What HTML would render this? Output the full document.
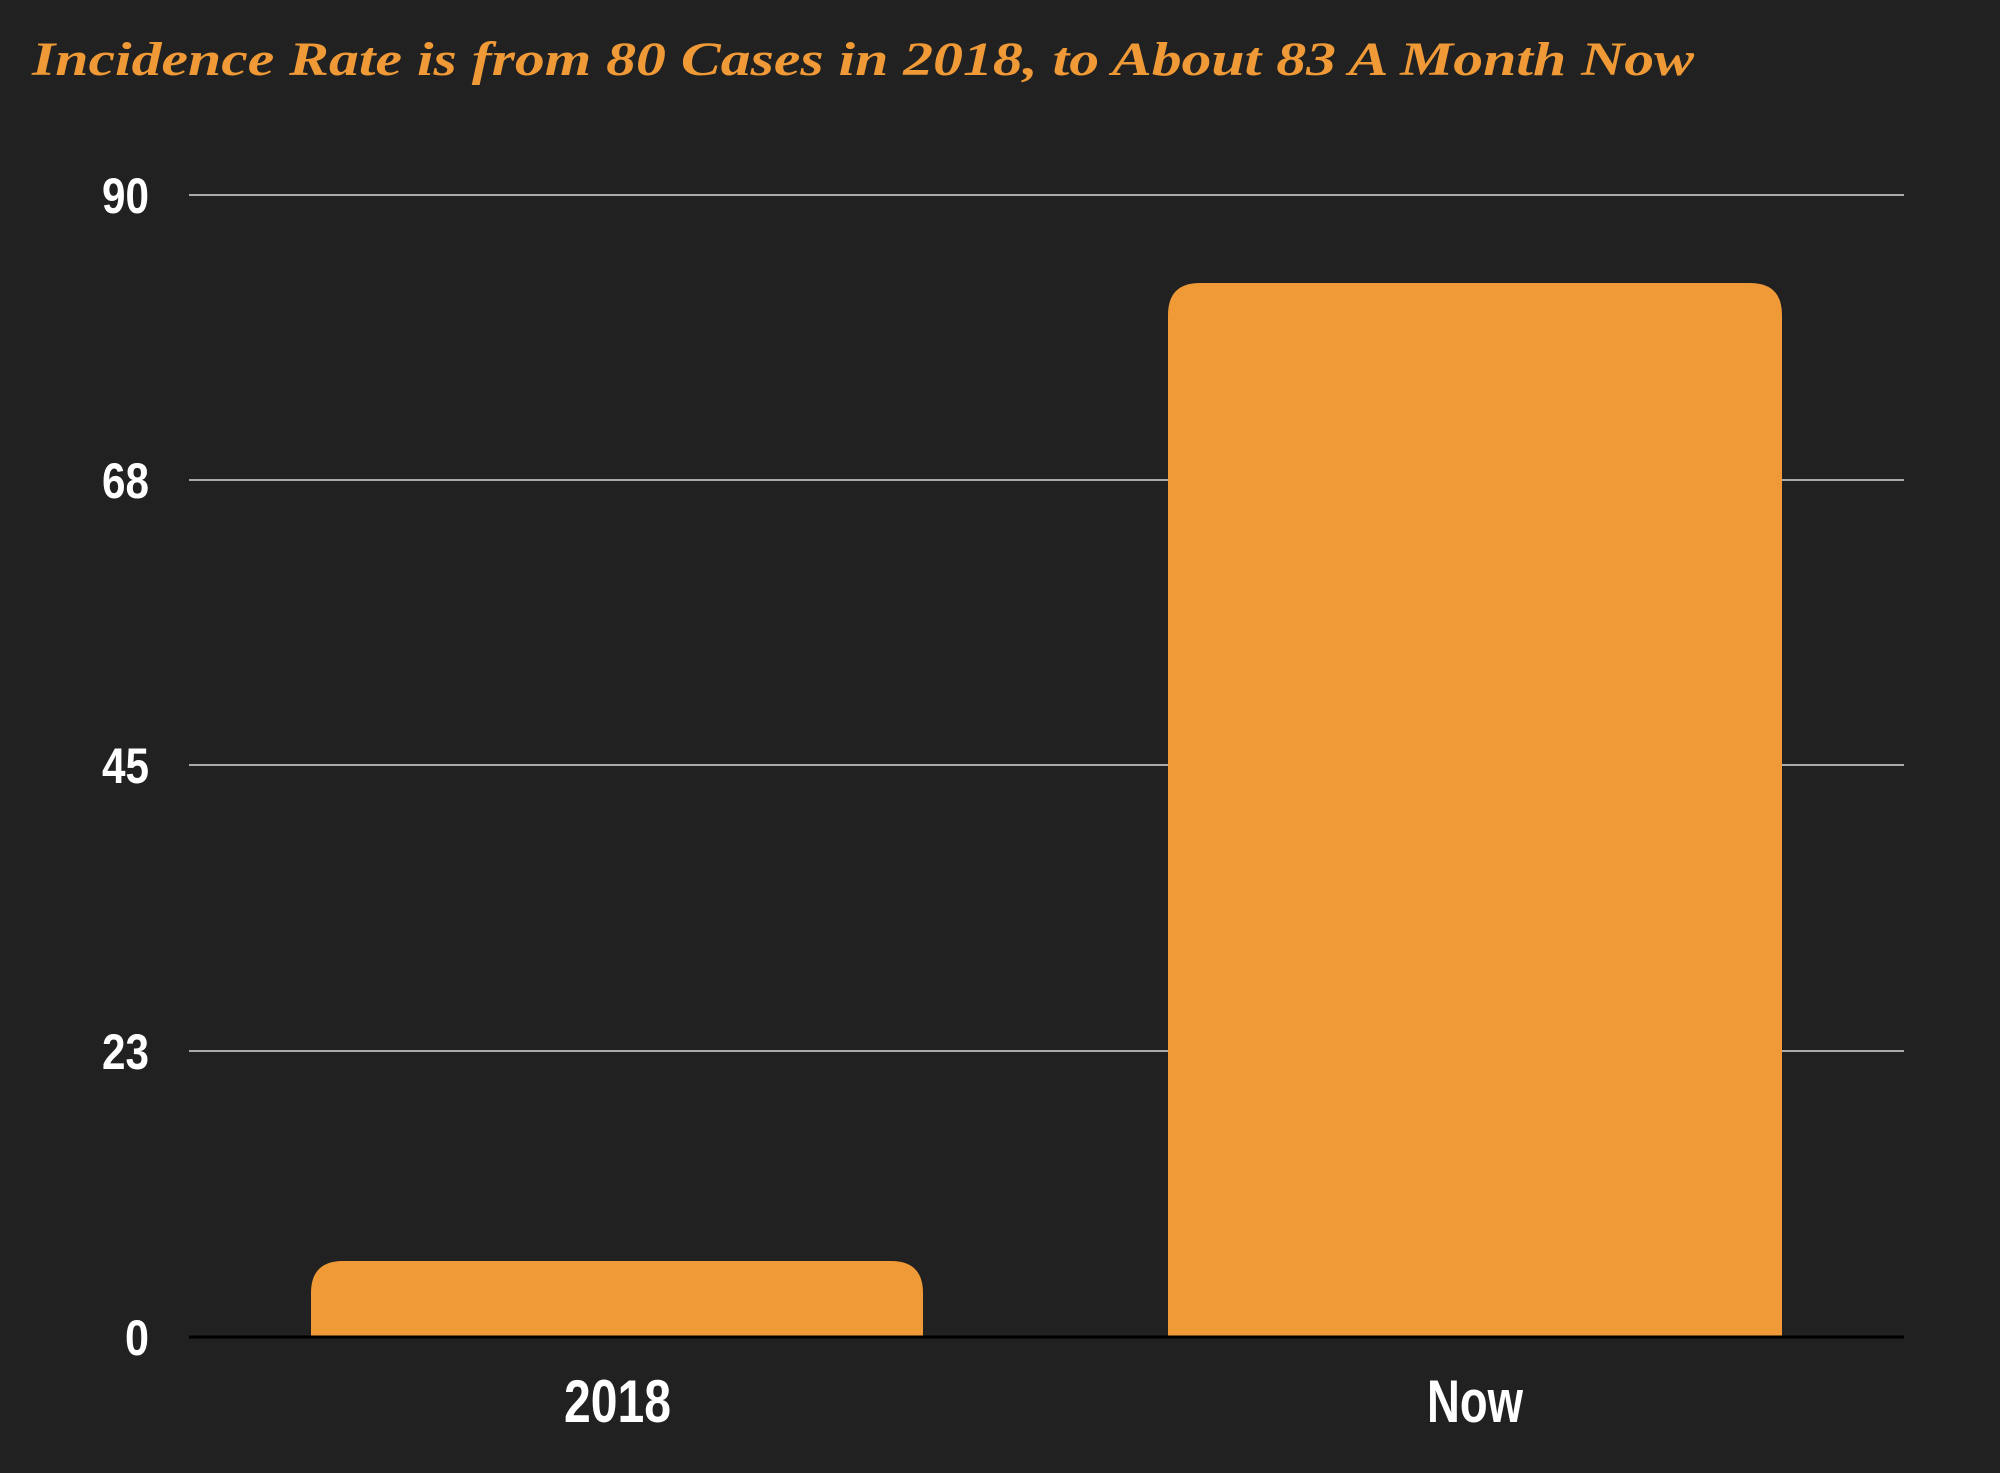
<!DOCTYPE html>
<html><head><meta charset="utf-8"><style>
html,body{margin:0;padding:0;background:#202120;}
</style></head><body>
<svg width="2000" height="1468" viewBox="0 0 2000 1468" xmlns="http://www.w3.org/2000/svg">
<rect width="2000" height="1468" fill="#202120"/>
<text x="32" y="75" font-family="Liberation Serif, serif" font-style="italic" font-weight="bold" font-size="48" fill="#ef9937" textLength="1662" lengthAdjust="spacingAndGlyphs">Incidence Rate is from 80 Cases in 2018, to About 83 A Month Now</text>
<g stroke="#aaaaaa" stroke-width="2">
<line x1="189" y1="195" x2="1904" y2="195"/>
<line x1="189" y1="480" x2="1904" y2="480"/>
<line x1="189" y1="765" x2="1904" y2="765"/>
<line x1="189" y1="1051" x2="1904" y2="1051"/>
</g>
<path d="M311 1337 V1293 Q311 1261 343 1261 H891 Q923 1261 923 1293 V1337 Z" fill="#ef9937"/>
<path d="M1168 1337 V315 Q1168 283 1200 283 H1750 Q1782 283 1782 315 V1337 Z" fill="#ef9937"/>
<line x1="189" y1="1337" x2="1904" y2="1337" stroke="#000" stroke-width="3"/>
<g font-family="Liberation Sans, sans-serif" font-weight="bold" font-size="50" fill="#ffffff">
<text x="102" y="213" textLength="47" lengthAdjust="spacingAndGlyphs">90</text>
<text x="102" y="498" textLength="47" lengthAdjust="spacingAndGlyphs">68</text>
<text x="102" y="783" textLength="47" lengthAdjust="spacingAndGlyphs">45</text>
<text x="102" y="1069" textLength="47" lengthAdjust="spacingAndGlyphs">23</text>
<text x="125" y="1355" textLength="24" lengthAdjust="spacingAndGlyphs">0</text>
</g>
<g font-family="Liberation Sans, sans-serif" font-weight="bold" font-size="60" fill="#ffffff">
<text x="564" y="1422" textLength="107" lengthAdjust="spacingAndGlyphs">2018</text>
<text x="1427" y="1422" textLength="96" lengthAdjust="spacingAndGlyphs">Now</text>
</g>
</svg>
</body></html>
